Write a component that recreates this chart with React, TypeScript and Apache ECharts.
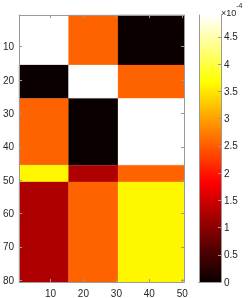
import React, { useEffect, useRef } from "react";
import * as echarts from "echarts";

// Image size (columns x rows) and block boundaries (last index of each block)
const N_COLS = 50;
const N_ROWS = 80;
const COL_BLOCK_ENDS = [15, 30, 50];
const ROW_BLOCK_ENDS = [15, 25, 45, 50, 80];

// Value of each block (row block x column block)
const BLOCK_ROW_1 = [4.9e-4, 2.55e-4, 0];
const BLOCK_ROW_2 = [0, 4.9e-4, 2.55e-4];
const BLOCK_ROW_3 = [2.55e-4, 0, 4.9e-4];
const BLOCK_ROW_4 = [3.62e-4, 1.26e-4, 2.55e-4];
const BLOCK_ROW_5 = [1.26e-4, 2.55e-4, 3.62e-4];
const BLOCK_VALUES = [BLOCK_ROW_1, BLOCK_ROW_2, BLOCK_ROW_3, BLOCK_ROW_4, BLOCK_ROW_5];

// Tick labels
const X_TICKS = [10, 20, 30, 40, 50];
const Y_TICKS = [10, 20, 30, 40, 50, 60, 70, 80];
const CBAR_TICKS = [0, 0.5e-4, 1e-4, 1.5e-4, 2e-4, 2.5e-4, 3e-4, 3.5e-4, 4e-4, 4.5e-4];

// MATLAB "hot" colormap stops (evenly spaced at k/8)
const HOT = ["#0b0000", "#550000", "#aa0000", "#ff0000", "#ff5500", "#ffaa00", "#ffff00", "#ffff80", "#ffffff"];

const xCats = Array.from({ length: N_COLS }, (_, i) => String(i + 1));
const yCats = Array.from({ length: N_ROWS }, (_, i) => String(i + 1));

// Blocks as [colStartIdx, colEndIdx, rowStartIdx, rowEndIdx, value] (category indices)
const blockData: number[][] = [];
ROW_BLOCK_ENDS.forEach((rEnd, ri) => {
  const rStart = ri === 0 ? 1 : ROW_BLOCK_ENDS[ri - 1] + 1;
  COL_BLOCK_ENDS.forEach((cEnd, ci) => {
    const cStart = ci === 0 ? 1 : COL_BLOCK_ENDS[ci - 1] + 1;
    blockData.push([cStart - 1, cEnd - 1, rStart - 1, rEnd - 1, BLOCK_VALUES[ri][ci]]);
  });
});

const allValues = BLOCK_VALUES.flat();
const CMIN = Math.min(...allValues);
const CMAX = Math.max(...allValues);

const TEXT = "#262626";
const LINE = "#9a9a9a";
const FONT = "Liberation Sans";

const xShow = (i: number) => X_TICKS.includes(i + 1);
const yShow = (i: number) => Y_TICKS.includes(i + 1);

export default function App() {
  const ref = useRef<HTMLDivElement>(null);
  useEffect(() => {
    const chart = echarts.init(ref.current!, null, { renderer: "svg" });
    const axisLine = { show: true, lineStyle: { color: LINE, width: 1 } };
    const tick = { show: true, inside: true, length: 3, lineStyle: { color: LINE } };
    const option: any = {
      animation: false,
      grid: [
        { left: 17, top: 15, width: 167, height: 267, containLabel: false },
        { left: 199, top: 15, width: 22, height: 267, containLabel: false },
      ],
      xAxis: [
        {
          type: "category", gridIndex: 0, position: "bottom", data: xCats, z: 5,
          axisLine, axisTick: { ...tick, alignWithLabel: true, interval: xShow },
          axisLabel: { interval: xShow, color: TEXT, fontSize: 10, fontFamily: FONT, margin: 6 },
          splitLine: { show: false },
        },
        {
          type: "category", gridIndex: 0, position: "top", data: xCats, z: 5,
          axisLine, axisTick: { ...tick, alignWithLabel: true, interval: xShow },
          axisLabel: { show: false }, splitLine: { show: false },
        },
        {
          type: "category", gridIndex: 1, position: "bottom", data: [""], z: 5,
          axisLine, axisTick: { show: false }, axisLabel: { show: false }, splitLine: { show: false },
        },
        {
          type: "category", gridIndex: 1, position: "top", data: [""], z: 5,
          axisLine, axisTick: { show: false }, axisLabel: { show: false }, splitLine: { show: false },
        },
      ],
      yAxis: [
        {
          type: "category", gridIndex: 0, position: "left", data: yCats, inverse: true, z: 5,
          axisLine, axisTick: { ...tick, alignWithLabel: true, interval: yShow },
          axisLabel: { interval: yShow, color: TEXT, fontSize: 10, fontFamily: FONT, margin: 5 },
          splitLine: { show: false },
        },
        {
          type: "category", gridIndex: 0, position: "right", data: yCats, inverse: true, z: 5,
          axisLine, axisTick: { ...tick, alignWithLabel: true, interval: yShow },
          axisLabel: { show: false }, splitLine: { show: false },
        },
        {
          type: "value", gridIndex: 1, position: "left", min: CMIN, max: CMAX, z: 5,
          axisLine, axisTick: { show: false }, axisLabel: { show: false }, splitLine: { show: false },
        },
        {
          type: "value", gridIndex: 1, position: "right", min: CMIN, max: CMAX, z: 5,
          axisLine,
          axisTick: { ...tick, customValues: CBAR_TICKS },
          axisLabel: {
            customValues: CBAR_TICKS, color: TEXT, fontSize: 10, fontFamily: FONT, margin: 3,
            formatter: (v: number) => String(+(v * 1e4).toFixed(1)),
          },
          splitLine: { show: false },
        },
      ],
      visualMap: {
        show: false, type: "continuous", min: CMIN, max: CMAX, dimension: 4, seriesIndex: 0,
        inRange: { color: HOT },
      },
      series: [
        {
          type: "custom", xAxisIndex: 0, yAxisIndex: 0, data: blockData, silent: true,
          encode: { x: [0, 1], y: [2, 3] },
          renderItem: (params: any, api: any) => {
            const tl = api.coord([api.value(0), api.value(2)]);
            const br = api.coord([api.value(1), api.value(3)]);
            const size = api.size([1, 1]);
            const x0 = Math.min(tl[0], br[0]) - size[0] / 2;
            const y0 = Math.min(tl[1], br[1]) - size[1] / 2;
            return {
              type: "rect",
              shape: {
                x: x0, y: y0,
                width: Math.abs(br[0] - tl[0]) + size[0],
                height: Math.abs(br[1] - tl[1]) + size[1],
              },
              style: { fill: api.visual("color"), stroke: api.visual("color"), lineWidth: 0.3 },
            };
          },
        },
        {
          type: "bar", xAxisIndex: 2, yAxisIndex: 3, data: [CMAX], barWidth: "100%", silent: true,
          itemStyle: {
            color: new echarts.graphic.LinearGradient(
              0, 0, 0, 1,
              HOT.map((c, i) => ({ offset: 1 - i / (HOT.length - 1), color: c })).reverse()
            ),
          },
        },
      ],
      graphic: [
        {
          type: "text", left: 221, top: 2, z: 10,
          style: {
            text: "{a|×10}{b|-4}",
            rich: {
              a: { fontSize: 9, fill: TEXT, fontFamily: FONT, padding: [6, 0, 0, 0] },
              b: { fontSize: 7, fill: TEXT, fontFamily: FONT, verticalAlign: "top" },
            },
          },
        },
      ],
    };
    chart.setOption(option);
    return () => chart.dispose();
  }, []);
  return <div ref={ref} style={{ position: "fixed", left: 0, top: 0, width: 249, height: 298 }} />;
}
